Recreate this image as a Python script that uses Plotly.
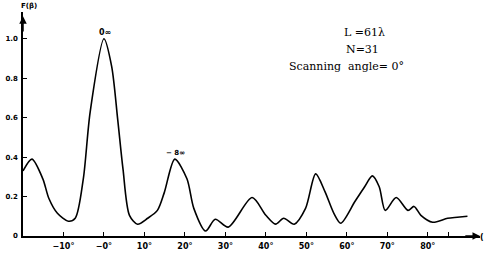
import plotly.graph_objects as go

# Digitised pattern F(beta) vs angle (degrees)
theta = [-20, -17.8, -15.1, -13.6, -11.5, -8.8, -7.1, -5.1, -3.4, 0, 1.9, 3.4, 4.7, 6.3, 8.3,
         10.8, 13.2, 14.9, 17.5, 20.5, 22.2, 25.1, 27.5, 30.7, 36.6, 40, 42.4, 44.4, 47, 49.8,
         52.3, 54.6, 56.8, 58.5, 62, 64.4, 66.3, 68.0, 69.5, 72.2, 75.1, 76.6, 78.3, 81.2,
         84.9, 87.3, 89.8]
F = [0.33, 0.39, 0.29, 0.19, 0.115, 0.075, 0.09, 0.29, 0.63, 1.0, 0.86, 0.59, 0.34, 0.105, 0.06,
     0.09, 0.13, 0.22, 0.39, 0.29, 0.14, 0.025, 0.085, 0.045, 0.195, 0.105, 0.06, 0.09, 0.06, 0.14,
     0.315, 0.225, 0.115, 0.065, 0.175, 0.25, 0.305, 0.25, 0.13, 0.195, 0.13, 0.15, 0.105, 0.07,
     0.09, 0.095, 0.1]

x_tickvals = [-10, 0, 10, 20, 30, 40, 50, 60, 70, 80, 85]
x_ticktext = ["−10°", "−0°", "10°", "20°", "30°", "40°", "50°", "60°", "70°", "80°", ""]
y_tickvals = [0, 0.2, 0.4, 0.6, 0.8, 1.0]
y_ticktext = ["0", "0.2", "0.4", "0.6", "0.8", "1.0"]

XMIN, XMAX = -20, 92.9
YMIN, YMAX = 0, 1.136

fig = go.Figure()
fig.add_trace(go.Scatter(x=theta, y=F, mode="lines",
                         line=dict(color="black", width=1.6, shape="spline", smoothing=0.8),
                         hoverinfo="skip", showlegend=False))

xtickfont = dict(family="DejaVu Sans", size=8, color="black", weight="bold")
ytickfont = dict(family="DejaVu Sans", size=7, color="black", weight="bold")
fig.update_xaxes(range=[XMIN, XMAX], showgrid=False, zeroline=False, showline=True,
                 linecolor="black", linewidth=1.5, ticks="inside", ticklen=4, tickwidth=1.2,
                 tickcolor="black", tickvals=x_tickvals, ticktext=x_ticktext, tickfont=xtickfont,
                 ticklabelstandoff=2)
fig.update_yaxes(range=[YMIN, YMAX], showgrid=False, zeroline=False, showline=True,
                 linecolor="black", linewidth=1.5, ticks="inside", ticklen=4, tickwidth=1.2,
                 tickcolor="black", tickvals=y_tickvals, ticktext=y_ticktext, tickfont=ytickfont,
                 ticklabelstandoff=2)

# axis arrows
fig.add_annotation(x=XMAX, y=0, ax=XMAX - 4, ay=0, xref="x", yref="y", axref="x", ayref="y",
                   text="", showarrow=True, arrowhead=2, arrowsize=1, arrowwidth=1.5, arrowcolor="black")
fig.add_annotation(x=XMIN, y=1.115, ax=XMIN, ay=1.03, xref="x", yref="y", axref="x", ayref="y",
                   text="", showarrow=True, arrowhead=2, arrowsize=1, arrowwidth=1.5, arrowcolor="black")


def px(xp, yp):
    return (xp - 17) / 463, (238 - yp) / 226


def label(xp, yp, text, font):
    ax_, ay_ = px(xp, yp)
    fig.add_annotation(x=ax_, y=ay_, xref="paper", yref="paper", text=text, showarrow=False,
                       xanchor="center", yanchor="middle", font=font)


bold7 = dict(family="DejaVu Sans", size=7, color="black", weight="bold")
bold8 = dict(family="DejaVu Sans", size=8, color="black", weight="bold")
label(23, 6, "F(β)", bold7)
label(482, 240, "(", bold8)
label(100, 33, "0∞", bold8)
label(171, 154, "− 8∞", bold7)

serif = dict(family="DejaVu Serif", size=11, color="black")
label(363, 33, "L =61λ", serif)
label(361, 50, "N=31", serif)
label(345, 67, "Scanning  angle= 0°", serif)

fig.update_layout(width=485, height=256, margin=dict(l=17, r=5, t=12, b=18),
                  plot_bgcolor="white", paper_bgcolor="white")

fig.write_html("out.html", config={"displayModeBar": False},
               post_script="document.body.style.margin='0';")
